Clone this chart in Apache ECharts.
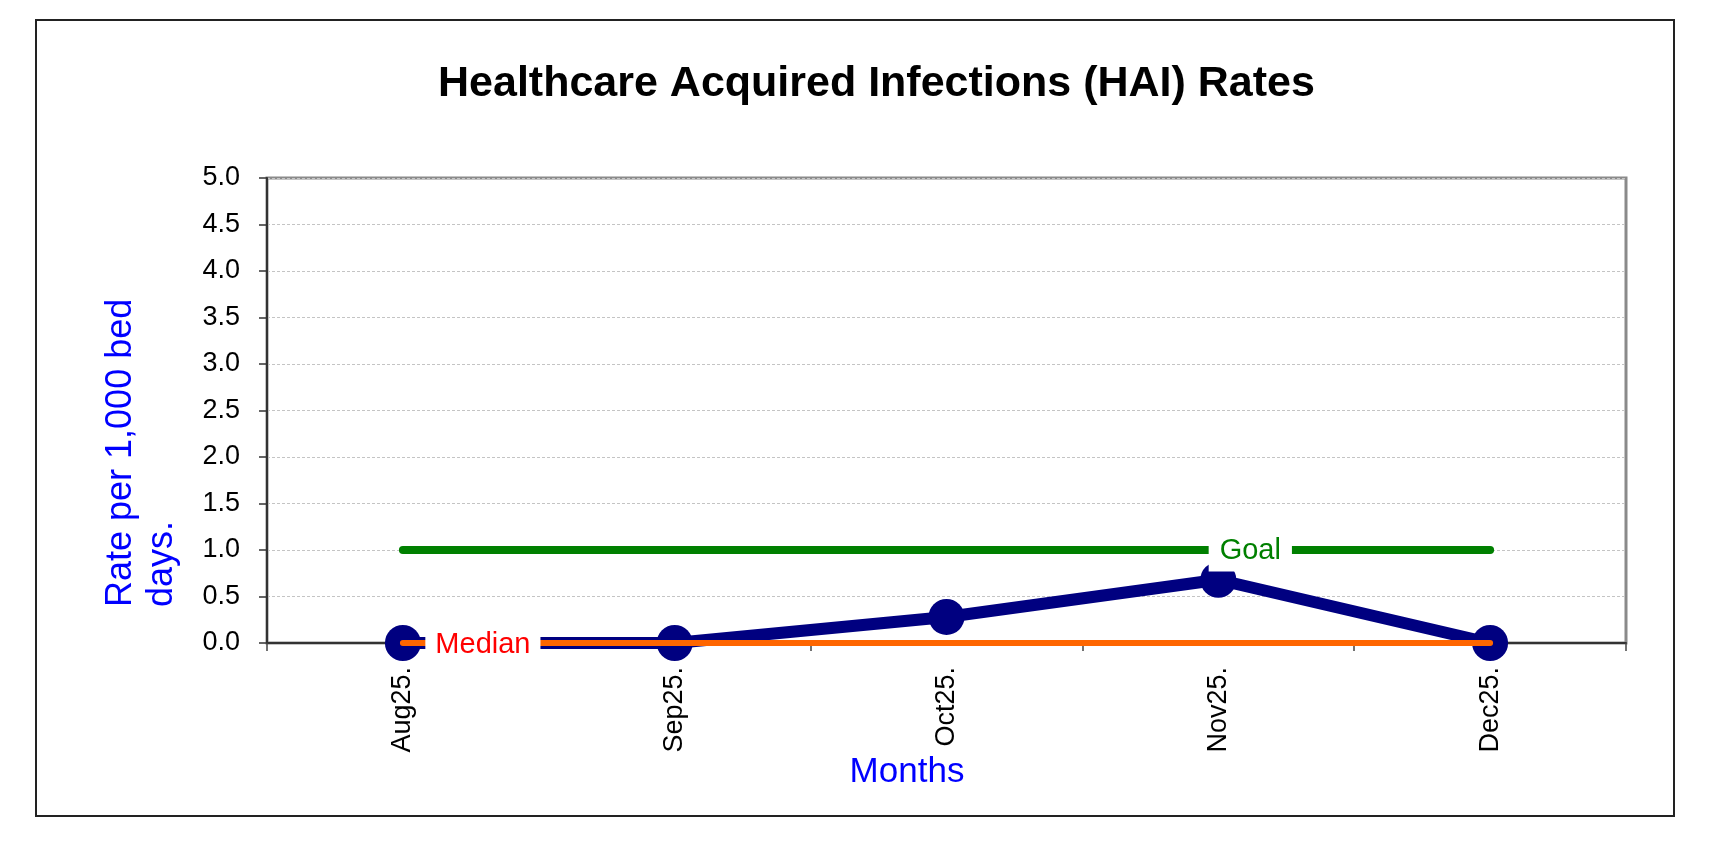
<!DOCTYPE html>
<html>
<head>
<meta charset="utf-8">
<script src="https://cdn.jsdelivr.net/npm/echarts@6/dist/echarts.min.js"></script>
<style>
html,body{margin:0;padding:0;background:#fff;}
#chart{width:1730px;height:841px;}
</style>
</head>
<body>
<div id="chart"></div>
<script>
const categories = ['Aug25.', 'Sep25.', 'Oct25.', 'Nov25.', 'Dec25.'];
const rateValues = [0, 0, 0.28, 0.68, 0];
const goalValues = [1, 1, 1, 1, 1];
const medianValues = [0, 0, 0, 0, 0];
const goalLabelIndex = 3;
const medianLabelIndex = 0;

const FONT = '"Liberation Sans", Arial, sans-serif';
const chart = echarts.init(document.getElementById('chart'));

const goalData = goalValues.map((v, i) => i === goalLabelIndex ? {
  value: v,
  label: {
    show: true, formatter: 'Goal', position: 'inside', offset: [32, 1],
    color: '#008000', fontSize: 29, fontFamily: FONT,
    backgroundColor: '#ffffff', padding: [3, 11, 9, 11]
  }
} : v);
const medianData = medianValues.map((v, i) => i === medianLabelIndex ? {
  value: v,
  label: {
    show: true, formatter: 'Median', position: 'inside', offset: [80, 2],
    color: '#ff0000', fontSize: 29, fontFamily: FONT,
    backgroundColor: '#ffffff', padding: [2, 10, 2, 10]
  }
} : v);

chart.setOption({
  animation: false,
  backgroundColor: '#ffffff',
  title: {
    text: 'Healthcare Acquired Infections (HAI) Rates',
    left: 433, top: 58,
    textStyle: { fontSize: 43, fontWeight: 'bold', color: '#000', fontFamily: FONT }
  },
  graphic: [
    { type: 'rect', shape: { x: 36, y: 20, width: 1638, height: 796 },
      style: { fill: 'none', stroke: '#222', lineWidth: 2 }, silent: true },
    { type: 'text', x: 142, y: 607, rotation: Math.PI / 2,
      style: { text: 'Rate per 1,000 bed\ndays.', fill: '#0000ff', fontSize: 36, fontFamily: FONT,
        align: 'left', verticalAlign: 'middle', lineHeight: 41 } },
    { type: 'text', x: 907, y: 772,
      style: { text: 'Months', fill: '#0000ff', fontSize: 35, fontFamily: FONT,
        align: 'center', verticalAlign: 'middle' } }
  ],
  grid: {
    left: 267, top: 178, width: 1359, height: 465,
    show: true, borderColor: '#8a8a8a', borderWidth: 3, backgroundColor: 'transparent'
  },
  xAxis: {
    type: 'category', data: categories, boundaryGap: true,
    axisLine: { show: true, lineStyle: { color: '#333', width: 2 } },
    axisTick: { show: true, length: 8, lineStyle: { color: '#444', width: 1.5 } },
    axisLabel: { rotate: 90, margin: 24, color: '#000', fontSize: 27, fontFamily: FONT },
    splitLine: { show: false }
  },
  yAxis: {
    type: 'value', min: 0, max: 5, interval: 0.5,
    axisLine: { show: true, lineStyle: { color: '#333', width: 2 } },
    axisTick: { show: true, length: 8, lineStyle: { color: '#333', width: 1.5 } },
    axisLabel: { margin: 27, color: '#000', fontSize: 27, fontFamily: FONT,
      formatter: v => v.toFixed(1) },
    splitLine: { show: true, lineStyle: { color: '#c4c4c4', width: 1, type: [3, 2] } }
  },
  series: [
    {
      name: 'Rate', type: 'line', data: rateValues, z: 2,
      symbol: 'circle', symbolSize: 36, showSymbol: true,
      lineStyle: { color: '#000080', width: 12 },
      itemStyle: { color: '#000080' }
    },
    {
      name: 'Goal', type: 'line', data: goalData, z: 3,
      symbol: 'circle', symbolSize: 1, showSymbol: true,
      lineStyle: { color: '#008000', width: 8, cap: 'round' },
      itemStyle: { color: 'rgba(0,0,0,0)' }
    },
    {
      name: 'Median', type: 'line', data: medianData, z: 4,
      symbol: 'circle', symbolSize: 1, showSymbol: true,
      lineStyle: { color: '#ff6600', width: 6, cap: 'round' },
      itemStyle: { color: 'rgba(0,0,0,0)' }
    }
  ]
});
</script>
</body>
</html>
